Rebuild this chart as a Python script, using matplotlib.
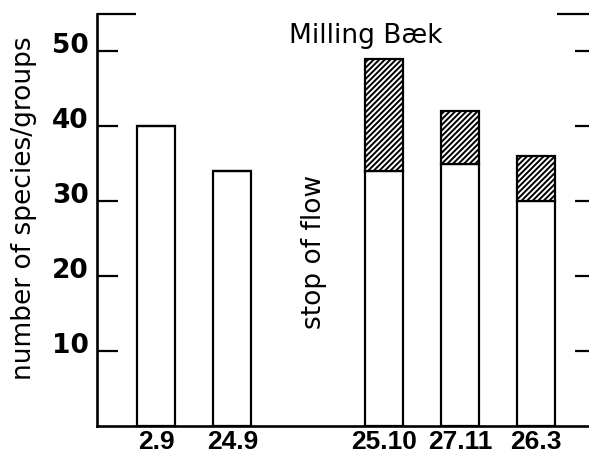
import matplotlib
matplotlib.use("Agg")
import matplotlib.pyplot as plt
import matplotlib.transforms as mtransforms
import numpy as np

# ---- data ----
dates = ["2.9", "24.9", "25.10", "27.11", "26.3"]
base_counts = [40, 34, 34, 35, 30]      # open part of bars
extra_counts = [0, 0, 15, 7, 6]          # hatched part stacked on top
y_ticks = [10, 20, 30, 40, 50]
title = "Milling Bæk"
event_label = "stop of flow"
y_label = "number of species/groups"

# ---- layout ----
x = np.array([0, 1, 3, 4, 5])
plt.rcParams["hatch.linewidth"] = 1.4

fig = plt.figure(figsize=(5.89, 4.57), dpi=100)
ax = fig.add_axes([97 / 589, 31 / 457, 498.6 / 589, 412.5 / 457])
ax.set_xlim(-0.78, 5.78)
ax.set_ylim(0, 55)

ax.bar(x, base_counts, width=0.5, color="white", edgecolor="black", linewidth=1.6, zorder=2)
ax.bar(x, extra_counts, width=0.5, bottom=base_counts, color="white", edgecolor="black",
       linewidth=1.6, hatch="//////", zorder=2)

ax.spines["top"].set_visible(False)
for s in ["left", "bottom", "right"]:
    ax.spines[s].set_linewidth(1.9)

ax.set_yticks(y_ticks)
ax.set_yticks([55], minor=True)
ax.tick_params(axis="y", which="major", direction="in", length=15, width=1.6,
               left=True, right=True, labelsize=19, pad=6)
ax.tick_params(axis="y", which="minor", direction="in", length=28, width=1.6,
               left=True, right=True)
for lab in ax.get_yticklabels():
    lab.set_fontweight("bold")
    lab.set_fontfamily("DejaVu Sans")
    lab.set_transform(lab.get_transform() + mtransforms.ScaledTranslation(0, 8 / 100, fig.dpi_scale_trans))

ax.set_xticks(x)
ax.set_xticklabels(dates, fontsize=19, fontweight="bold", fontfamily="Liberation Sans")
ax.tick_params(axis="x", length=0, pad=3)

ax.text(2.75, 51.1, title, ha="center", va="baseline", fontsize=19, fontfamily="DejaVu Sans")
ax.text(2.07, 23.2, event_label, ha="center", va="center", rotation=90,
        fontsize=19, fontfamily="DejaVu Sans")
fig.text(24 / 589, (457 - 208) / 457, y_label, ha="center", va="center", rotation=90,
         fontsize=19, fontfamily="DejaVu Sans")

fig.savefig("out.png", dpi=100)
